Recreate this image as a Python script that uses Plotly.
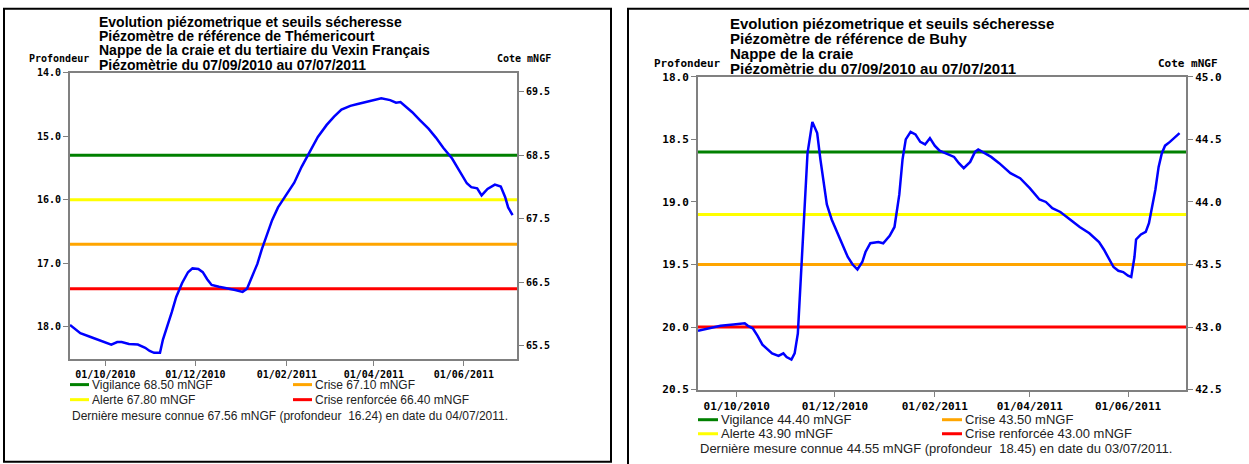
import plotly.graph_objects as go

W, H = 1249, 464

# ---------------- data : Thémericourt ----------------
t_dates = ["2010-09-07", "2010-09-14", "2010-09-21", "2010-10-01", "2010-10-05", "2010-10-09",
           "2010-10-12", "2010-10-17", "2010-10-23", "2010-10-28", "2010-10-31", "2010-11-03",
           "2010-11-07", "2010-11-09", "2010-11-12", "2010-11-15", "2010-11-18", "2010-11-22",
           "2010-11-26", "2010-11-29", "2010-12-03", "2010-12-06", "2010-12-09", "2010-12-12",
           "2010-12-17", "2010-12-22", "2010-12-28", "2011-01-02", "2011-01-05", "2011-01-08",
           "2011-01-12", "2011-01-15", "2011-01-18", "2011-01-22", "2011-01-26", "2011-01-31",
           "2011-02-06", "2011-02-11", "2011-02-17", "2011-02-22", "2011-02-28", "2011-03-05",
           "2011-03-10", "2011-03-16", "2011-03-21", "2011-03-27", "2011-04-01", "2011-04-06",
           "2011-04-12", "2011-04-16", "2011-04-19", "2011-04-22", "2011-04-27", "2011-05-02",
           "2011-05-08", "2011-05-13", "2011-05-18", "2011-05-24", "2011-05-29", "2011-06-03",
           "2011-06-06", "2011-06-10", "2011-06-13", "2011-06-17", "2011-06-22", "2011-06-26",
           "2011-06-29", "2011-07-01", "2011-07-04"]
t_cote = [65.83, 65.70, 65.64, 65.56, 65.52, 65.56, 65.56, 65.53, 65.52, 65.47, 65.42, 65.39,
          65.39, 65.60, 65.80, 66.03, 66.27, 66.49, 66.66, 66.72, 66.71, 66.66, 66.55, 66.46,
          66.43, 66.41, 66.38, 66.35, 66.40, 66.57, 66.79, 67.02, 67.23, 67.48, 67.68, 67.85,
          68.07, 68.32, 68.57, 68.79, 68.98, 69.11, 69.22, 69.28, 69.31, 69.34, 69.37, 69.40,
          69.37, 69.33, 69.34, 69.28, 69.18, 69.06, 68.92, 68.78, 68.62, 68.45, 68.26, 68.06,
          68.00, 67.98, 67.87, 67.97, 68.04, 68.01, 67.84, 67.68, 67.56]
t_ground = 83.80
t_thresholds = [68.50, 67.80, 67.10, 66.40]
t_depth_ticks = [14.0, 15.0, 16.0, 17.0, 18.0]
t_cote_ticks = [65.5, 66.5, 67.5, 68.5, 69.5]
t_depth_range = [18.5, 14.0]
t_title = ["Evolution piézometrique et seuils sécheresse",
           "Piézomètre de référence de Thémericourt",
           "Nappe de la craie et du tertiaire du Vexin Français",
           "Piézomètrie du 07/09/2010 au 07/07/2011"]
t_last = ["67.56", "16.24", "04/07/2011"]

# ---------------- data : Buhy ----------------
b_dates = ["2010-09-07", "2010-09-21", "2010-09-29", "2010-10-04", "2010-10-06", "2010-10-08",
           "2010-10-11", "2010-10-14", "2010-10-17", "2010-10-23", "2010-10-27", "2010-10-30",
           "2010-11-01", "2010-11-04", "2010-11-06", "2010-11-08", "2010-11-10", "2010-11-12",
           "2010-11-14", "2010-11-17", "2010-11-20", "2010-11-22", "2010-11-24", "2010-11-26",
           "2010-11-29", "2010-12-03", "2010-12-06", "2010-12-09", "2010-12-12", "2010-12-15",
           "2010-12-18", "2010-12-20", "2010-12-23", "2010-12-28", "2010-12-31", "2011-01-04",
           "2011-01-07", "2011-01-10", "2011-01-12", "2011-01-14", "2011-01-17", "2011-01-20",
           "2011-01-23", "2011-01-26", "2011-01-29", "2011-02-01", "2011-02-04", "2011-02-09",
           "2011-02-13", "2011-02-16", "2011-02-19", "2011-02-23", "2011-02-26", "2011-02-28",
           "2011-03-04", "2011-03-08", "2011-03-13", "2011-03-20", "2011-03-26", "2011-04-01",
           "2011-04-07", "2011-04-11", "2011-04-15", "2011-04-20", "2011-04-26", "2011-05-02",
           "2011-05-08", "2011-05-14", "2011-05-17", "2011-05-20", "2011-05-23", "2011-05-26",
           "2011-05-29", "2011-06-01", "2011-06-03", "2011-06-05", "2011-06-06", "2011-06-09",
           "2011-06-12", "2011-06-14", "2011-06-16", "2011-06-18", "2011-06-20", "2011-06-22",
           "2011-06-24", "2011-06-27", "2011-07-03"]
b_cote = [42.97, 43.01, 43.02, 43.03, 43.03, 43.01, 42.99, 42.93, 42.86, 42.79, 42.77, 42.79,
          42.76, 42.74, 42.79, 42.95, 43.40, 43.91, 44.39, 44.64, 44.55, 44.34, 44.15, 43.98,
          43.86, 43.74, 43.64, 43.56, 43.50, 43.46, 43.52, 43.60, 43.67, 43.68, 43.67, 43.73,
          43.80, 44.06, 44.34, 44.50, 44.56, 44.54, 44.48, 44.46, 44.51, 44.45, 44.41, 44.38,
          44.36, 44.31, 44.27, 44.32, 44.40, 44.42, 44.39, 44.36, 44.31, 44.23, 44.19, 44.11,
          44.02, 44.00, 43.95, 43.92, 43.86, 43.80, 43.75, 43.68, 43.62, 43.55, 43.48, 43.45,
          43.44, 43.41, 43.40, 43.56, 43.70, 43.74, 43.76, 43.83, 43.96, 44.10, 44.28, 44.39,
          44.45, 44.48, 44.55]
b_ground = 63.00
b_thresholds = [44.40, 43.90, 43.50, 43.00]
b_depth_ticks = [18.0, 18.5, 19.0, 19.5, 20.0, 20.5]
b_cote_ticks = [42.5, 43.0, 43.5, 44.0, 44.5, 45.0]
b_depth_range = [20.5, 18.0]
b_title = ["Evolution piézometrique et seuils sécheresse",
           "Piézomètre de référence de Buhy",
           "Nappe de la craie",
           "Piézomètrie du 07/09/2010 au 07/07/2011"]
b_last = ["44.55", "18.45", "03/07/2011"]

# ---------------- shared ----------------
threshold_names = ["Vigilance", "Alerte", "Crise", "Crise renforcée"]
threshold_colors = ["#008000", "#FFFF00", "#FFA500", "#FF0000"]
x_tick_dates = ["2010-10-01", "2010-12-01", "2011-02-01", "2011-04-01", "2011-06-01"]
x_range = ["2010-09-07", "2011-07-07"]


def px(x):
    return x / W


def py(y):
    # vertical pixel position -> paper fraction (compensates the capture's vertical fit)
    yc = (y - 6.35) / 0.9695
    return 1 - yc / H


panels = [
    dict(dates=t_dates, cote=t_cote, ground=t_ground, thr=t_thresholds, dticks=t_depth_ticks,
         cticks=t_cote_ticks, drange=t_depth_range, title=t_title, last=t_last,
         plot=(70, 517, 73, 358), frame=(4, 611, 9, 461), tick=10, txt=12, ttl=14,
         title_x=97, title_y=[22, 36.5, 50.5, 65], prof=(27, 59), cote_lbl=(495, 59),
         leg_rows=[384, 399], leg_cols=[70, 293], leg_len=19, last_y=415,
         xa="x", ya="y", ya2="y2"),
    dict(dates=b_dates, cote=b_cote, ground=b_ground, thr=b_thresholds, dticks=b_depth_ticks,
         cticks=b_cote_ticks, drange=b_depth_range, title=b_title, last=b_last,
         plot=(698, 1186, 77, 389), frame=(628, 1253, 9, 490), tick=11, txt=13, ttl=15,
         title_x=728, title_y=[24, 39, 54, 69], prof=(652, 64), cote_lbl=(1156, 64),
         leg_rows=[419, 433], leg_cols=[698, 942], leg_len=20, last_y=448,
         xa="x2", ya="y3", ya2="y4"),
]

fig = go.Figure()
annotations = []
shapes = []
layout_axes = {}

for p in panels:
    x0, x1, y0, y1 = p["plot"]
    g = p["ground"]
    crange = [g - p["drange"][0], g - p["drange"][1]]
    tickfont = dict(family="DejaVu Sans Mono", size=p["tick"], color="black", weight="bold")

    # thresholds
    for name, val, col in zip(threshold_names, p["thr"], threshold_colors):
        fig.add_trace(go.Scatter(x=x_range, y=[val, val], mode="lines",
                                 line=dict(color=col, width=3), xaxis=p["xa"], yaxis=p["ya"],
                                 hoverinfo="skip", showlegend=False))
    # piezometric series
    fig.add_trace(go.Scatter(x=p["dates"], y=p["cote"], mode="lines",
                             line=dict(color="#0000FF", width=2.5), xaxis=p["xa"], yaxis=p["ya"],
                             showlegend=False))
    # depth axis (invisible companion trace)
    fig.add_trace(go.Scatter(x=p["dates"], y=[g - c for c in p["cote"]], mode="lines",
                             line=dict(color="rgba(0,0,0,0)", width=0), xaxis=p["xa"],
                             yaxis=p["ya2"], hoverinfo="skip", showlegend=False))

    xkey = "xaxis" if p["xa"] == "x" else "xaxis" + p["xa"][1:]
    ykey = "yaxis" if p["ya"] == "y" else "yaxis" + p["ya"][1:]
    y2key = "yaxis" + p["ya2"][1:]
    layout_axes[xkey] = dict(domain=[px(x0), px(x1)], anchor=p["ya"], range=x_range, type="date",
                             tickvals=x_tick_dates, tickformat="%d/%m/%Y", ticks="outside",
                             ticklen=5, tickcolor="#808080", showline=True, linecolor="#808080",
                             linewidth=2, mirror=True, showgrid=False, zeroline=False,
                             tickfont=tickfont, fixedrange=True)
    layout_axes[ykey] = dict(domain=[py(y1), py(y0)], anchor=p["xa"], side="right", range=crange,
                             tickvals=p["cticks"], tickformat=".1f", ticks="outside", ticklen=5,
                             tickcolor="#808080", showline=True, linecolor="#808080", linewidth=2,
                             showgrid=False, zeroline=False, tickfont=tickfont)
    layout_axes[y2key] = dict(overlaying=p["ya"], anchor=p["xa"], side="left", range=p["drange"],
                              tickvals=p["dticks"], tickformat=".1f", ticks="outside", ticklen=5,
                              tickcolor="#808080", showline=True, linecolor="#808080", linewidth=2,
                              showgrid=False, zeroline=False, tickfont=tickfont)

    # frame
    fx0, fx1, fy0, fy1 = p["frame"]
    shapes.append(dict(type="rect", xref="paper", yref="paper", x0=px(fx0), x1=px(fx1),
                       y0=py(fy1), y1=py(fy0), line=dict(color="black", width=2)))

    # title
    for line, ty in zip(p["title"], p["title_y"]):
        annotations.append(dict(text=line, x=px(p["title_x"]), y=py(ty), xref="paper",
                                yref="paper", xanchor="left", yanchor="middle", showarrow=False,
                                font=dict(family="Liberation Sans", size=p["ttl"], color="black",
                                          weight="bold")))
    small = dict(family="DejaVu Sans Mono", size=p["tick"], color="black", weight="bold")
    annotations.append(dict(text="Profondeur", x=px(p["prof"][0]), y=py(p["prof"][1]),
                            xref="paper", yref="paper", xanchor="left", yanchor="middle",
                            showarrow=False, font=small))
    annotations.append(dict(text="Cote mNGF", x=px(p["cote_lbl"][0]), y=py(p["cote_lbl"][1]),
                            xref="paper", yref="paper", xanchor="left", yanchor="middle",
                            showarrow=False, font=small))

    # legend (2 columns x 2 rows)
    order = [(0, 0), (1, 0), (0, 1), (1, 1)]  # (row, col) for each threshold
    for (row, col), name, val, colr in zip(order, threshold_names, p["thr"], threshold_colors):
        lx = p["leg_cols"][col]
        ly = p["leg_rows"][row]
        shapes.append(dict(type="line", xref="paper", yref="paper", x0=px(lx),
                           x1=px(lx + p["leg_len"]), y0=py(ly), y1=py(ly),
                           line=dict(color=colr, width=3)))
        annotations.append(dict(text=f"{name} {val:.2f} mNGF", x=px(lx + p["leg_len"] + 1),
                                y=py(ly), xref="paper", yref="paper", xanchor="left",
                                yanchor="middle", showarrow=False,
                                font=dict(family="Liberation Sans", size=p["txt"], color="#222")))
    v, d, dt = p["last"]
    annotations.append(dict(text=f"Dernière mesure connue {v} mNGF (profondeur\u00a0 {d}) en date du {dt}.",
                            x=px(x0), y=py(p["last_y"]), xref="paper", yref="paper",
                            xanchor="left", yanchor="middle", showarrow=False,
                            font=dict(family="Liberation Sans", size=p["txt"], color="#222")))

fig.update_layout(width=W, height=H, margin=dict(l=0, r=0, t=0, b=0), autosize=False,
                  paper_bgcolor="white", plot_bgcolor="white", showlegend=False,
                  annotations=annotations, shapes=shapes, **layout_axes)

css_fix = (
    "var s=document.createElement('style');"
    "s.textContent='html,body{margin:0!important;padding:0!important;overflow:hidden;}"
    " .plotly-graph-div{display:block;}';"
    "document.head.appendChild(s);"
)
fig.write_html("out.html", config={"displayModeBar": False, "staticPlot": True},
               post_script=css_fix)
